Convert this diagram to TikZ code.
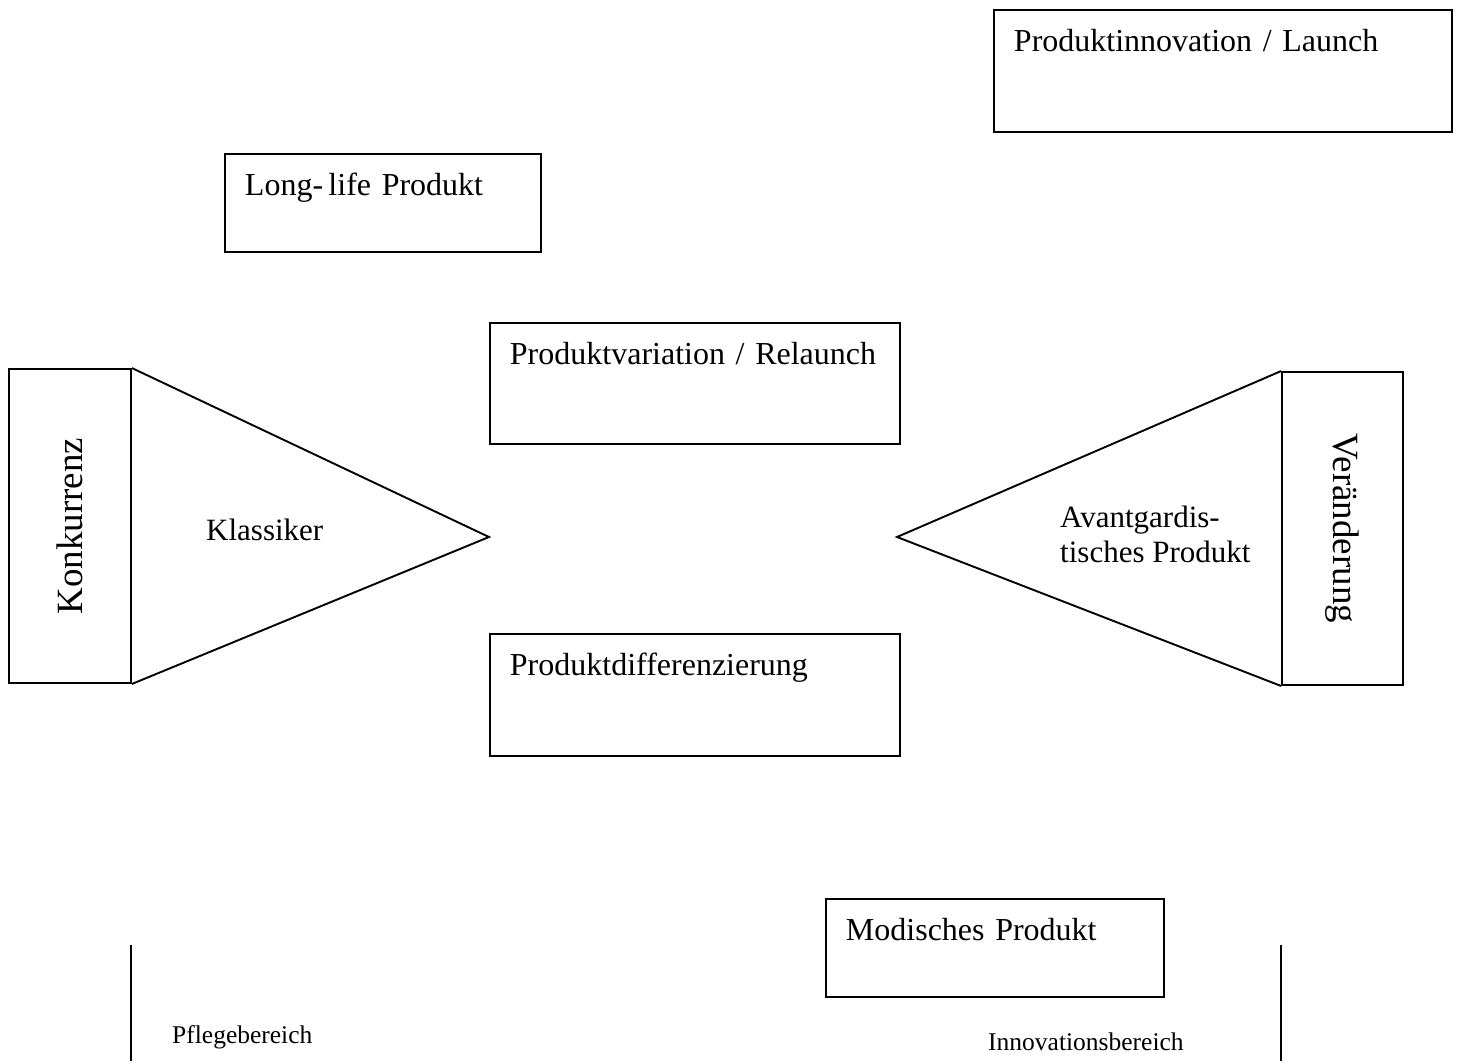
\documentclass[tikz,border=0pt]{standalone}
\usepackage{fontspec}
\setmainfont{Liberation Serif}
\usetikzlibrary{positioning,calc}
\tikzset{
  %Define style for boxes
  kasten/.style={
    rectangle,
    draw=black, line width=1.9pt,
    anchor=north west,
    inner xsep=20pt, inner ysep=0pt,
    text height=42pt,
    align=left,
    font=\fontsize{32}{38}\selectfont},
  % Define style for the side boxes
  seite/.style={
    rectangle,
    draw=black, line width=1.9pt,
    minimum width=122pt,
    minimum height=314pt,
    inner sep=0pt,
    font=\fontsize{37}{44}\selectfont},
  % Define style for plain labels
  etikett/.style={
    inner sep=0pt,
    anchor=base west,
    font=\fontsize{31}{35}\selectfont},
  % Define line style
  linie/.style={line width=1.9pt}
}
\begin{document}
\begin{tikzpicture}[x=1pt,y=-1pt]
    \useasboundingbox (0,0) rectangle (1459,1061);
    \node[kasten, text width=418pt, text depth=80pt] (launch) at (993,9) {Produktinnovation / Launch};
    \node[kasten, text width=276pt, text depth=56pt] (longlife) at (224,153) {Long-\,life Produkt};
    \node[kasten, text width=370pt, text depth=79pt] (variation) at (489,322) {Produktvariation / Relaunch};
    \node[kasten, text width=370pt, text depth=80pt] (differenzierung) at (489,633) {Produktdifferenzierung};
    \node[kasten, text width=298pt, text depth=56pt] (modisch) at (825,898) {Modisches Produkt};
    \node[seite] (konkurrenz) at (70,526) {\rotatebox{90}{Konkurrenz}};
    \node[seite, minimum width=121pt, minimum height=313pt] (veraenderung) at (1342.5,528.5) {\rotatebox{-90}{Veränderung}};
    \coordinate (spitzelinks) at (489,537);
    \coordinate (spitzerechts) at (897,537);
    \draw[linie] (konkurrenz.north east) -- (spitzelinks) -- (konkurrenz.south east);
    \draw[linie] (veraenderung.north west) -- (spitzerechts) -- (veraenderung.south west);
    \node[etikett] (klassiker) at (206,540) {Klassiker};
    \node[etikett, anchor=north west, align=left] (avantgarde) at (1060,506) {Avantgardis-\\tisches Produkt};
    % Bereiche unten
    \coordinate (pflegeoben) at (131,945);
    \coordinate (pflegeunten) at (131,1061);
    \coordinate (innovationoben) at (1281,945);
    \coordinate (innovationunten) at (1281,1061);
    \draw[linie] (pflegeoben) -- (pflegeunten);
    \draw[linie] (innovationoben) -- (innovationunten);
    \node[etikett, font=\fontsize{25.5}{30}\selectfont] (pflege) at (172,1043) {Pflegebereich};
    \node[etikett, font=\fontsize{25.5}{30}\selectfont] (innovation) at (988,1050) {Innovationsbereich};
  \end{tikzpicture}
\end{document}
